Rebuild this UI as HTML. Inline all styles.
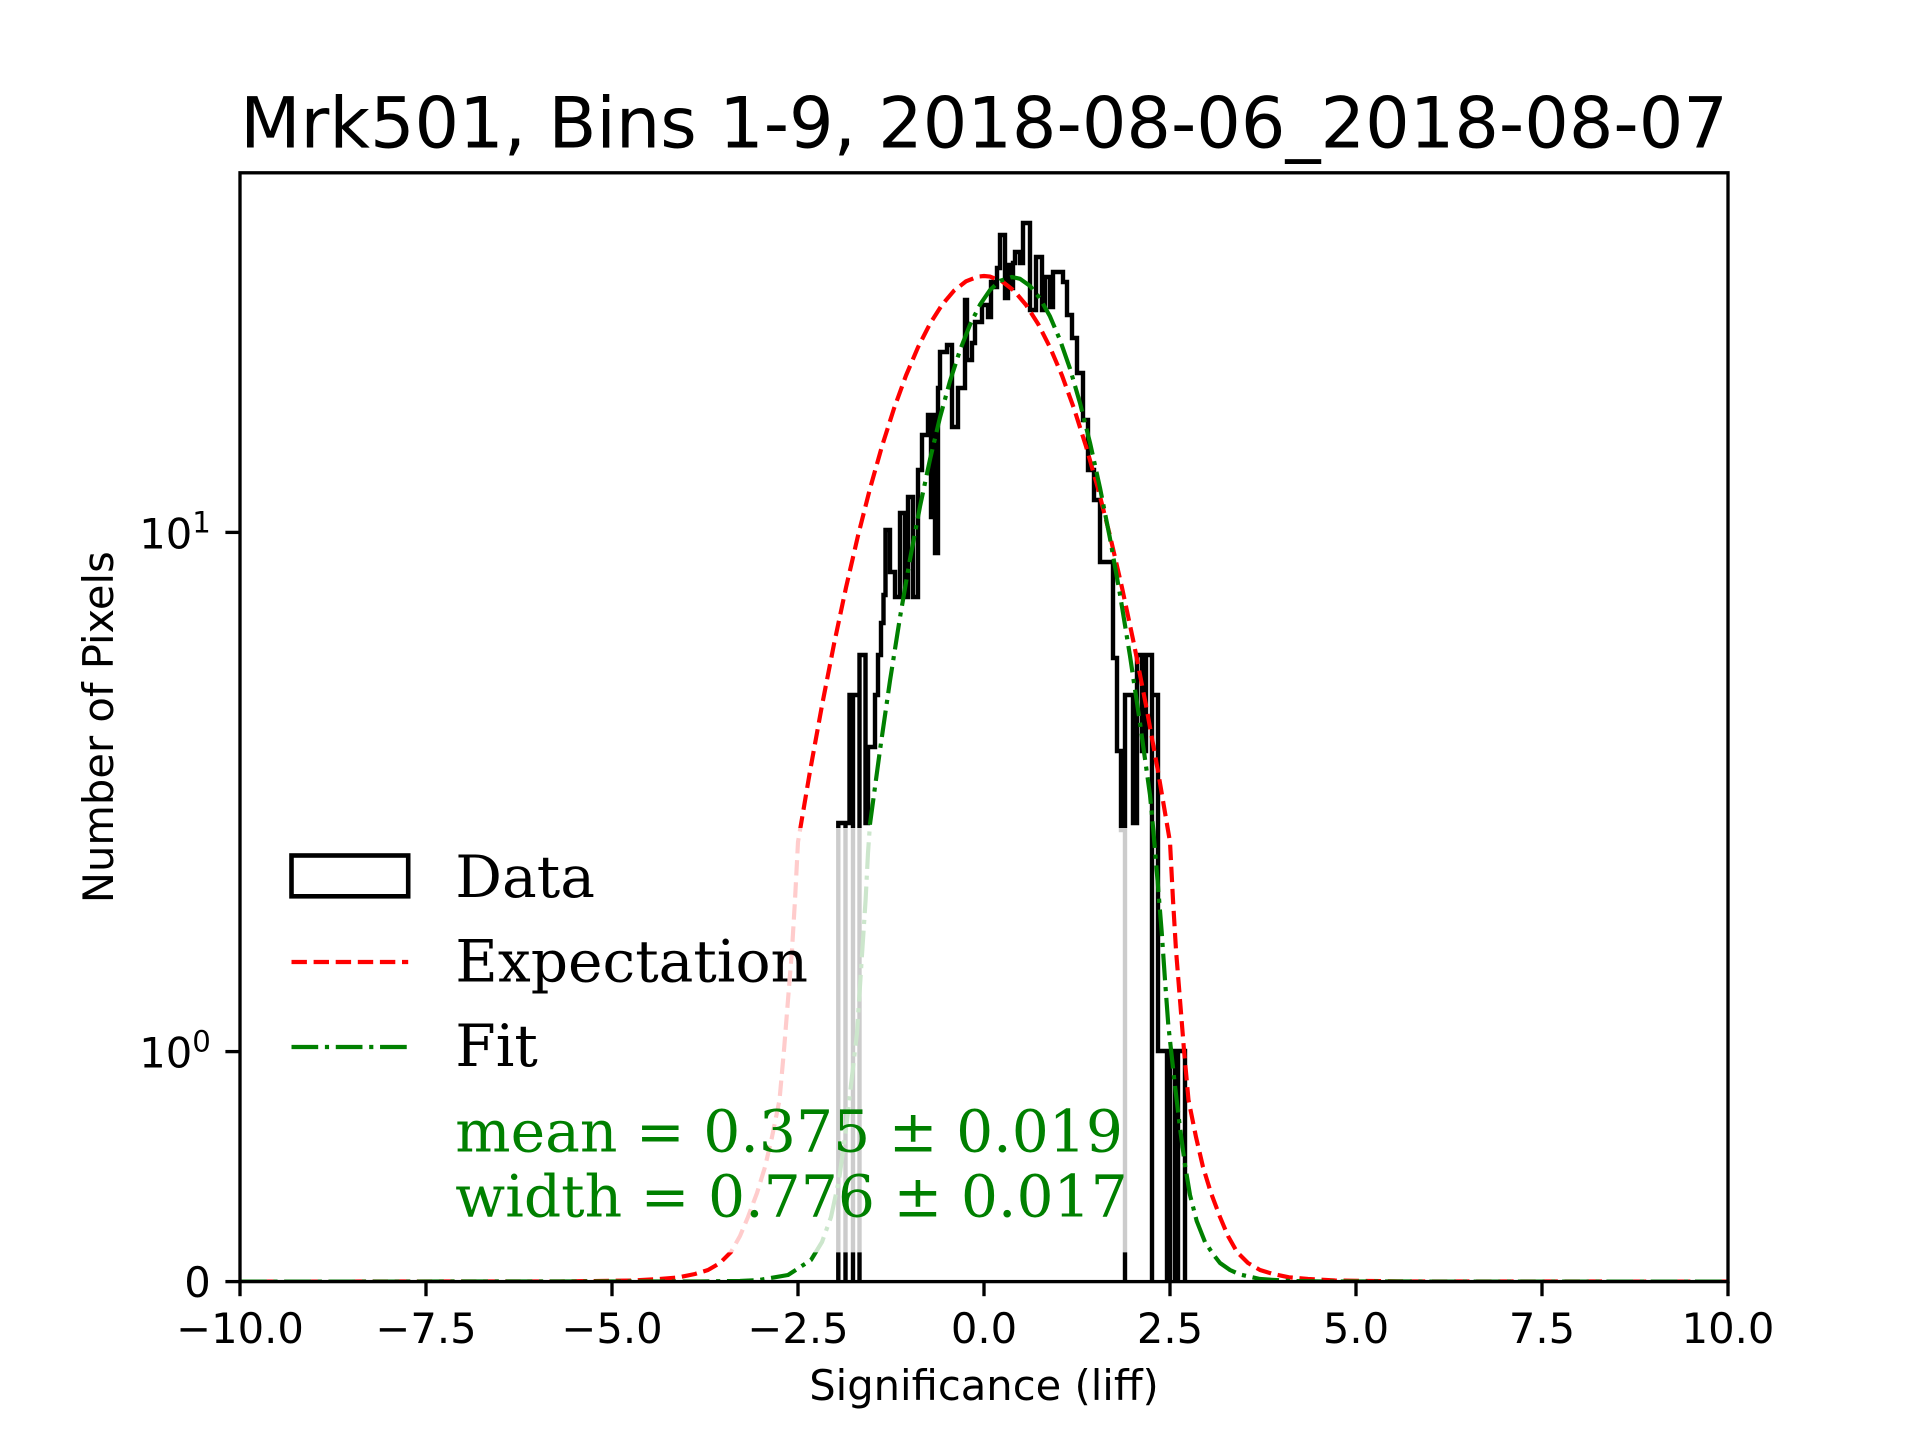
<!DOCTYPE html>
<html>
<head>
<meta charset="utf-8">
<style>
  html, body { margin: 0; padding: 0; background: #ffffff; }
  svg { display: block; }
  .sans { font-family: "DejaVu Sans", "Liberation Sans", sans-serif; }
  .serif { font-family: "DejaVu Serif", "Liberation Serif", serif; }
</style>
</head>
<body>
<svg width="1920" height="1440" viewBox="0 0 1920 1440" xmlns="http://www.w3.org/2000/svg">
  <defs>
    <clipPath id="plotclip">
      <rect x="240" y="172.8" width="1488" height="1108.8"/>
    </clipPath>
  </defs>
  <rect x="0" y="0" width="1920" height="1440" fill="#ffffff"/>

  <text class="sans" x="984" y="147.5" font-size="70.1" text-anchor="middle" fill="#000">Mrk501, Bins 1-9, 2018-08-06_2018-08-07</text>

  <g clip-path="url(#plotclip)">
    <path fill="none" stroke="#000" stroke-width="4.4" stroke-linejoin="miter" d="M838.3,1281.6 V823 H845.5 V1281.6 V823 H849.5 V695 H853 V1281.6 V695 H859.5 V1281.6 V655 H865.5 V823 H868 V747 H875 V695 H878 V655 H881 V623 H883.5 V595 H885.5 V530 H890 V572 H895 V597 H900 V513 H905 V597 H908 V497 H913 V597 H918 V470 H922 V435 H928 V415 H931 V517 H934 V415 H935 V553 H938 V388 H940 V352 H947 V345 H952 V427 H958 V388 H965 V300 H967 V360 H972 V343 H975 V322 H982 V305 H988 V317 H991 V282 H995 V287 H997 V268 H1000 V235 H1005 V298 H1008 V265 H1010 V288 H1013 V263 H1015 V252 H1020 V263 H1023 V223 H1030 V310 H1036 V257 H1042 V310 H1045 V277 H1050 V307 H1053 V272 H1063 V282 H1067 V315 H1072 V338 H1077 V373 H1083 V420 H1088 V470 H1094 V500 H1100 V562 H1113 V658 H1117 V751 H1121 V830 H1125 V1281.6 V695 H1133 V823 H1137 V655 H1142 V751 H1146 V655 H1152 V1281.6 V695 H1158 V1051 H1167 V1281.6 H1170 V1051 H1175 V1281.6 H1178 V1051 H1185 V1281.6"/>

    <polyline fill="none" stroke="#ff0000" stroke-width="4.17" stroke-dasharray="15.4 6.7" stroke-linejoin="round" points="240,1281.6 560,1281.4 600,1281 633,1280.5 660,1279 679,1277.3 695,1274 708,1270 720,1263 731,1252 740,1236 748,1217 757,1193 765,1167 772,1137 779.5,1100 784,1050 788,1000 792,950 795,900 798,842 810,771.3 822,705.4 834,644.1 846,587.6 858,535.7 870,488.6 882,446.2 894,408.5 906,375.5 918,347.3 930,323.7 942,304.9 954,290.7 966,281.3 978,276.6 984,276 990,276.6 1002,281.3 1014,290.7 1026,304.9 1038,323.7 1050,347.3 1062,375.5 1074,408.5 1086,446.2 1098,488.6 1110,535.7 1122,587.6 1134,644.1 1146,705.4 1158,771.3 1170,842 1173,900 1176,950 1180,1000 1184,1050 1188.5,1100 1196,1137 1203,1167 1211,1193 1220,1217 1228,1236 1237,1252 1248,1263 1260,1270 1273,1274 1289,1277.3 1308,1279 1335,1280.5 1368,1281 1408,1281.4 1728,1281.6"/>

    <polyline fill="none" stroke="#008000" stroke-width="4.17" stroke-dasharray="26.7 6.7 4.17 6.7" stroke-linejoin="round" points="240,1281.6 700,1281.4 740,1281 759,1280 788,1275 811,1260 822,1242 831,1217 839,1180 845.5,1133 851,1085 857,1033 861,970 865.6,900 868,853 870,824 880,750 890,680.7 900,617.3 910,559.2 920,506.5 930,459.4 940,417.4 950,381.1 960,350.2 970,324.7 980,304.7 990,290 1000,280.9 1011.9,277 1020,278.8 1030,285.9 1040,298.5 1050,316.4 1060,339.9 1070,368.7 1080,403 1090,442.7 1100,487.9 1110,538.5 1120,594.5 1130,655.9 1140,722.9 1150,795 1153.3,830 1157.5,880 1161.7,932 1165,980 1168.3,1025 1175,1086 1180,1128 1185,1165 1190,1195 1196.7,1221 1205,1242 1213,1254 1220,1263 1230,1270 1240,1274.5 1260,1279 1290,1281 1330,1281.5 1728,1281.6"/>
  </g>

  <rect x="268" y="828" width="880" height="424.4" rx="11.7" ry="11.7" fill="#ffffff" fill-opacity="0.8"/>

  <rect x="291.5" y="855.5" width="116.7" height="40.8" fill="none" stroke="#000" stroke-width="4.6"/>
  <line x1="291.5" y1="962" x2="408.2" y2="962" stroke="#ff0000" stroke-width="4.17" stroke-dasharray="15.4 6.7"/>
  <line x1="291.5" y1="1047" x2="408.2" y2="1047" stroke="#008000" stroke-width="4.17" stroke-dasharray="26.7 6.7 4.17 6.7"/>

  <g class="serif" font-size="58.3">
    <text x="455.3" y="897" fill="#000">Data</text>
    <text x="455.3" y="981.7" fill="#000">Expectation</text>
    <text x="455.3" y="1066" fill="#000">Fit</text>
    <text x="455.3" y="1151.7" fill="#008000">mean = 0.375 ± 0.019</text>
    <text x="455.3" y="1216.7" fill="#008000">width = 0.776 ± 0.017</text>
  </g>

  <rect x="240" y="172.8" width="1488" height="1108.8" fill="none" stroke="#000" stroke-width="3.33"/>

  <g stroke="#000" stroke-width="3.33">
    <line x1="240" y1="1281.6" x2="240" y2="1296.2"/>
    <line x1="426" y1="1281.6" x2="426" y2="1296.2"/>
    <line x1="612" y1="1281.6" x2="612" y2="1296.2"/>
    <line x1="798" y1="1281.6" x2="798" y2="1296.2"/>
    <line x1="984" y1="1281.6" x2="984" y2="1296.2"/>
    <line x1="1170" y1="1281.6" x2="1170" y2="1296.2"/>
    <line x1="1356" y1="1281.6" x2="1356" y2="1296.2"/>
    <line x1="1542" y1="1281.6" x2="1542" y2="1296.2"/>
    <line x1="1728" y1="1281.6" x2="1728" y2="1296.2"/>
    <line x1="225.4" y1="1281.6" x2="240" y2="1281.6"/>
    <line x1="225.4" y1="1051.6" x2="240" y2="1051.6"/>
    <line x1="225.4" y1="532.4" x2="240" y2="532.4"/>
  </g>

  <g class="sans" font-size="41.67" text-anchor="middle" fill="#000">
    <text x="240" y="1343">−10.0</text>
    <text x="426" y="1343">−7.5</text>
    <text x="612" y="1343">−5.0</text>
    <text x="798" y="1343">−2.5</text>
    <text x="984" y="1343">0.0</text>
    <text x="1170" y="1343">2.5</text>
    <text x="1356" y="1343">5.0</text>
    <text x="1542" y="1343">7.5</text>
    <text x="1728" y="1343">10.0</text>
  </g>

  <g class="sans" font-size="41.67" text-anchor="end" fill="#000">
    <text x="210.8" y="1297">0</text>
    <text x="210.8" y="1067.5">10<tspan font-size="29.2" dy="-16">0</tspan></text>
    <text x="210.8" y="548.5">10<tspan font-size="29.2" dy="-16">1</tspan></text>
  </g>

  <text class="sans" x="984" y="1400" font-size="41.67" text-anchor="middle" fill="#000">Significance (liff)</text>
  <text class="sans" transform="translate(113,727.2) rotate(-90)" font-size="41.67" text-anchor="middle" fill="#000">Number of Pixels</text>
</svg>
</body>
</html>
